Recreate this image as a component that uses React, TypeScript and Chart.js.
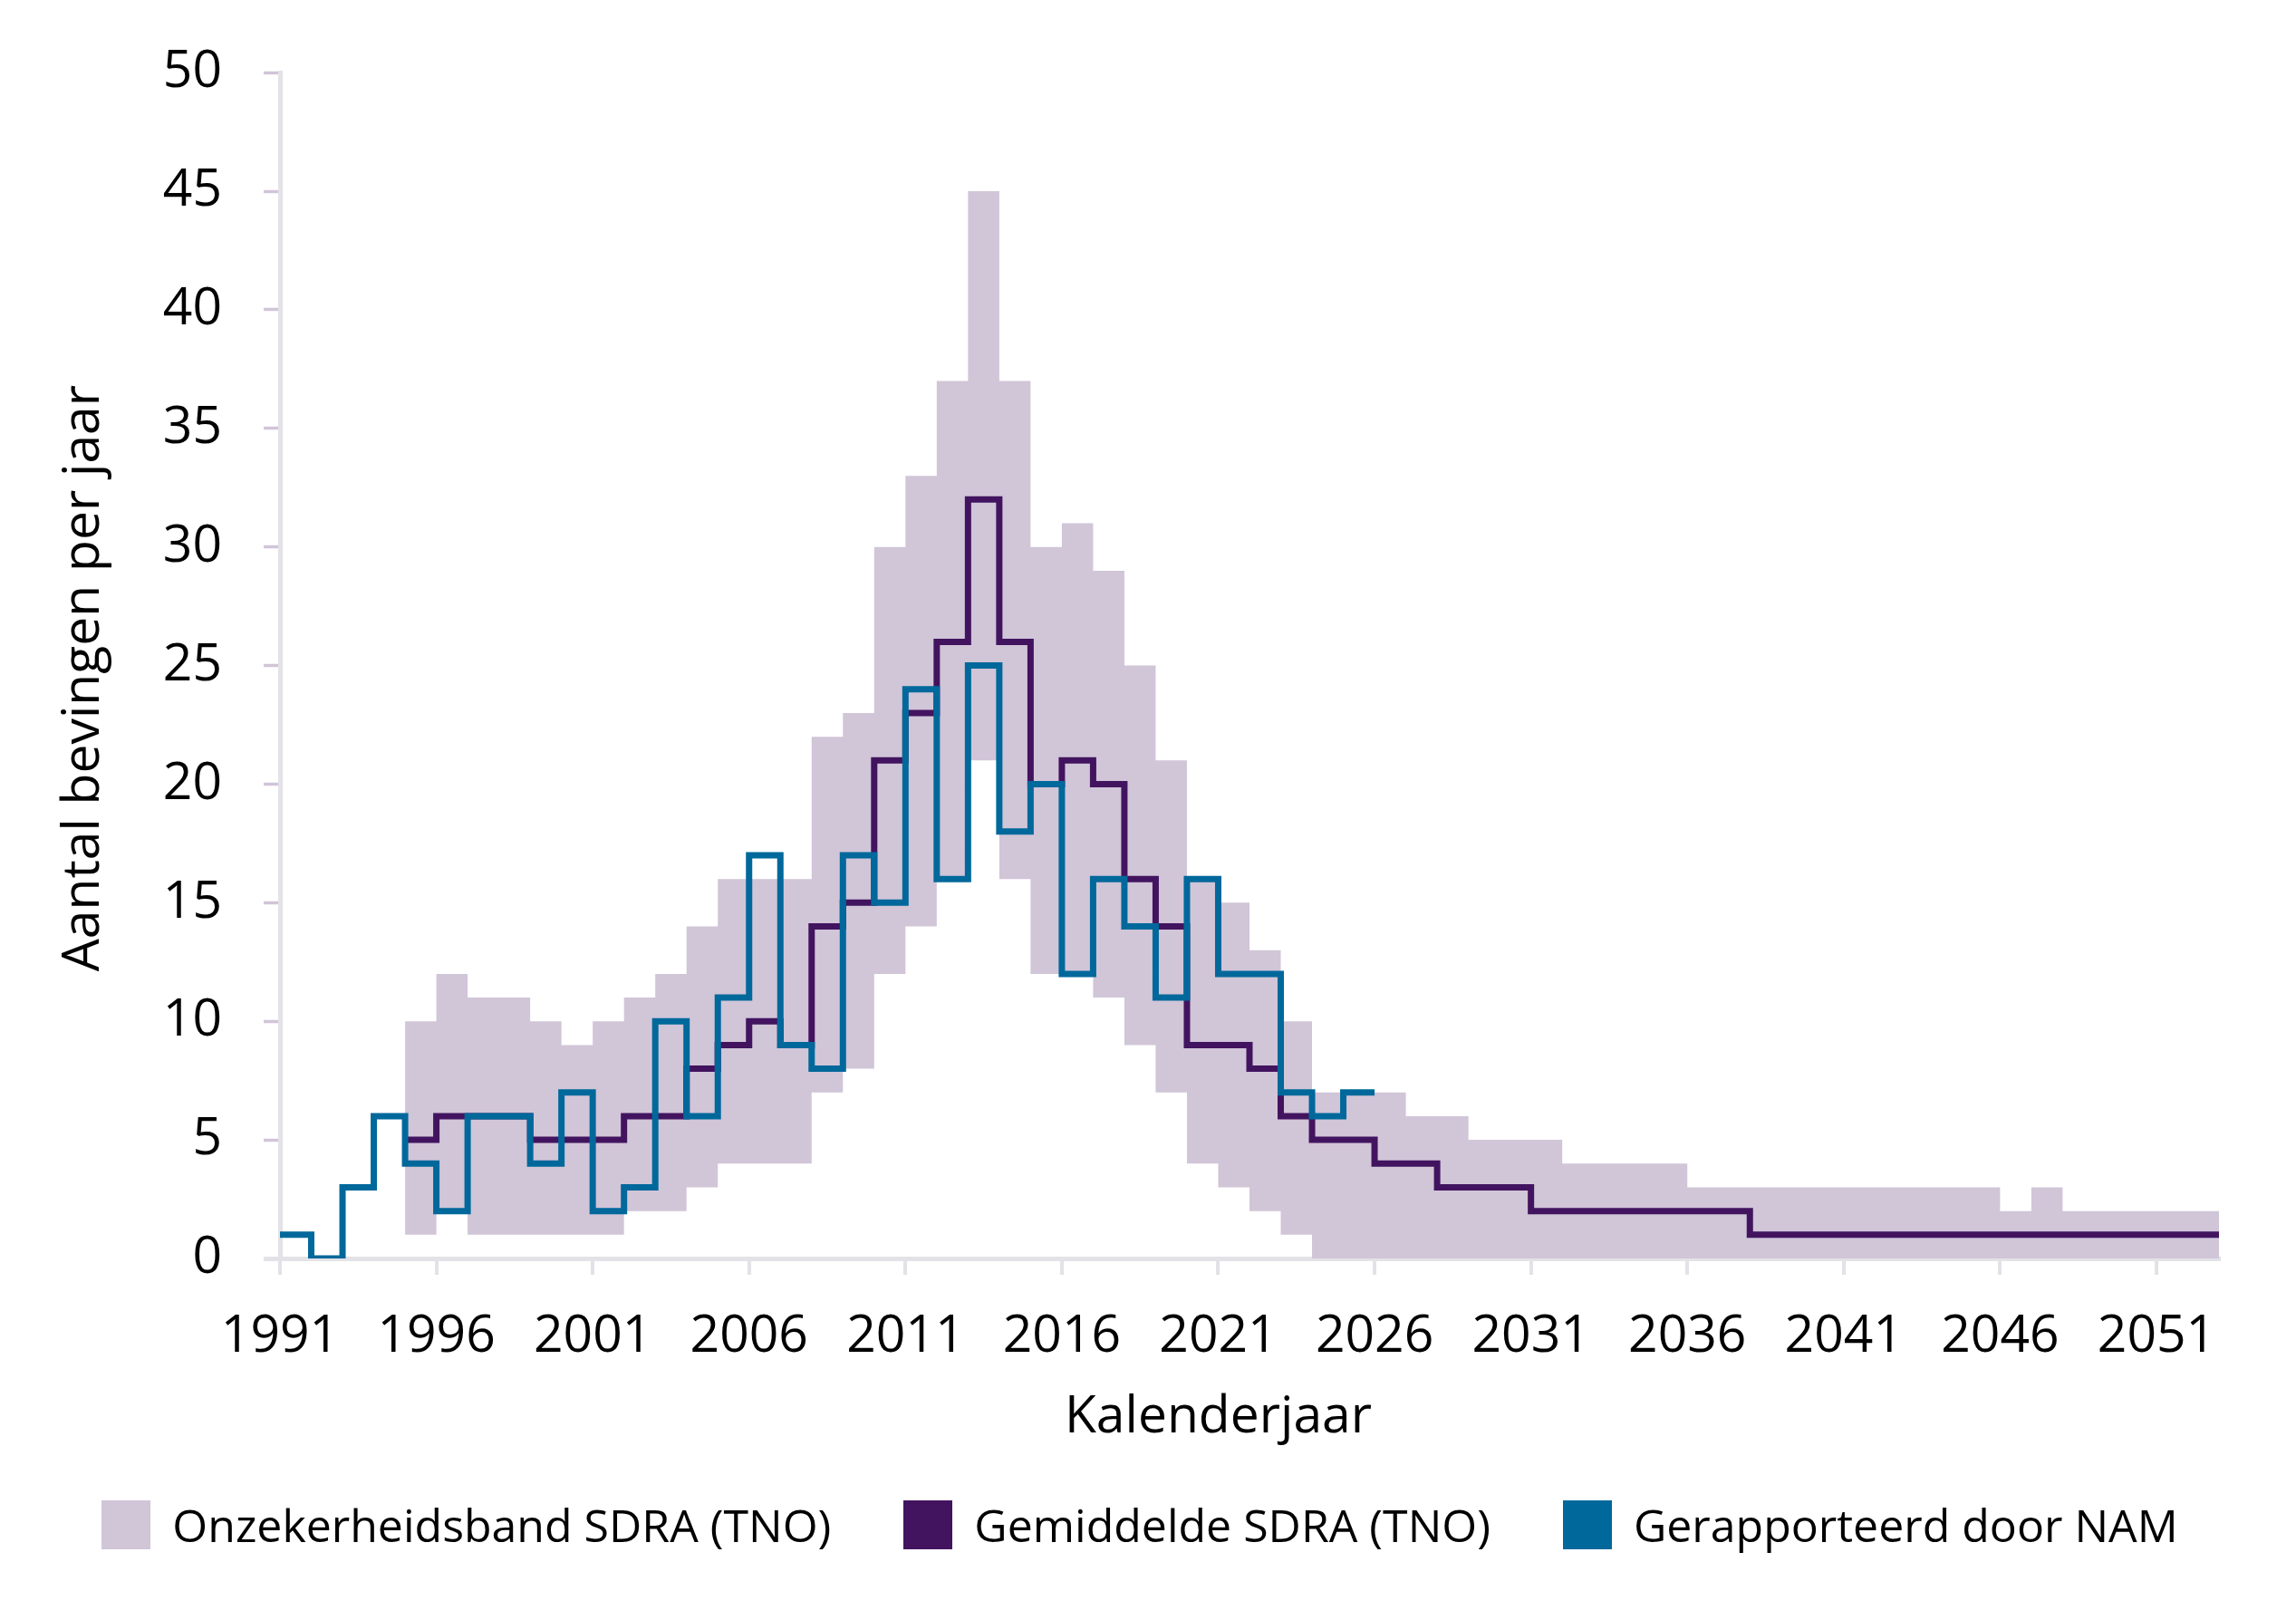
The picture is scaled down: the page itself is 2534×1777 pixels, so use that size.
import { useEffect, useRef } from "react"
import { Chart, registerables } from "chart.js"

Chart.register(...registerables)

// jaartallen op de x-as
const xTicks = [1991, 1996, 2001, 2006, 2011, 2016, 2021, 2026, 2031, 2036, 2041, 2046, 2051]
const X_MIN = 1991
const X_MAX = 2053

// Gerapporteerd door NAM, per kalenderjaar vanaf 1991
const namStart = 1991
const namValues = [
  1, 0, 3, 6, 4, 2, 6, 6, 4, 7,
  2, 3, 10, 6, 11, 17, 9, 8, 17, 15,
  24, 16, 25, 18, 20, 12, 16, 14, 11, 16,
  12, 12, 7, 6, 7,
]

// SDRA (TNO), per kalenderjaar vanaf 1995
const sdraStart = 1995
const sdraMean = [
  5, 6, 6, 6, 5, 5, 5, 6, 6, 8,
  9, 10, 9, 14, 15, 21, 23, 26, 32, 26,
  20, 21, 20, 16, 14, 9, 9, 8, 6, 5,
  5, 4, 4, 3, 3, 3, 2, 2, 2, 2,
  2, 2, 2, 1, 1, 1, 1, 1, 1, 1,
  1, 1, 1, 1, 1, 1, 1, 1,
]
const sdraUpper = [
  10, 12, 11, 11, 10, 9, 10, 11, 12, 14,
  16, 16, 16, 22, 23, 30, 33, 37, 45, 37,
  30, 31, 29, 25, 21, 16, 15, 13, 10, 7,
  7, 7, 6, 6, 5, 5, 5, 4, 4, 4,
  4, 3, 3, 3, 3, 3, 3, 3, 3, 3,
  3, 2, 3, 2, 2, 2, 2, 2,
]
const sdraLower = [
  1, 2, 1, 1, 1, 1, 1, 2, 2, 3,
  4, 4, 4, 7, 8, 12, 14, 16, 21, 16,
  12, 12, 11, 9, 7, 4, 3, 2, 1, 0,
  0, 0, 0, 0, 0, 0, 0, 0, 0, 0,
  0, 0, 0, 0, 0, 0, 0, 0, 0, 0,
  0, 0, 0, 0, 0, 0, 0, 0,
]

const LILAC = "#d1c5d8"
const VIOLET = "#42145f"
const BLUE = "#01689b"
const GREY = "#e2e2e7"
const FONT = "'Open Sans', 'Noto Sans', sans-serif"

const legendItems = [
  { label: "Onzekerheidsband SDRA (TNO)", color: LILAC },
  { label: "Gemiddelde SDRA (TNO)", color: VIOLET },
  { label: "Gerapporteerd door NAM", color: BLUE },
]

// elke waarde geldt voor het hele jaar: extra punt aan het eind van het laatste jaar
function steps(start: number, values: number[]) {
  const pts = values.map((v, i) => ({ x: start + i, y: v }))
  pts.push({ x: start + values.length, y: values[values.length - 1] })
  return pts
}

const axisTitles = {
  id: "axisTitles",
  afterDraw(chart: any) {
    const { ctx, scales, chartArea } = chart
    const x = scales.x
    ctx.save()
    ctx.fillStyle = "#000"
    ctx.font = `57px ${FONT}`
    ctx.textAlign = "center"
    ctx.textBaseline = "middle"
    const cx = (x.getPixelForValue(xTicks[0]) + x.getPixelForValue(xTicks[xTicks.length - 1])) / 2
    ctx.fillText("Kalenderjaar", cx, chartArea.bottom + 176)
    ctx.translate(93, (chartArea.top + chartArea.bottom) / 2 + 14)
    ctx.rotate(-Math.PI / 2)
    ctx.fillText("Aantal bevingen per jaar", 0, 0)
    ctx.restore()
  },
}

function EarthquakeChart() {
  const chartRef = useRef<HTMLCanvasElement>(null)
  const chartInstance = useRef<Chart | null>(null)

  useEffect(() => {
    document.body.style.margin = "0"
    if (!chartRef.current) return
    if (chartInstance.current) chartInstance.current.destroy()
    const ctx = chartRef.current.getContext("2d")
    if (!ctx) return

    Chart.defaults.font.family = FONT
    Chart.defaults.color = "#000"

    chartInstance.current = new Chart(ctx, {
      type: "line",
      data: {
        datasets: [
          {
            label: "NAM",
            data: steps(namStart, namValues),
            borderColor: BLUE,
            borderWidth: 7,
            stepped: true,
            fill: false,
            order: 0,
          },
          {
            label: "Gemiddelde",
            data: steps(sdraStart, sdraMean),
            borderColor: VIOLET,
            borderWidth: 7,
            stepped: true,
            fill: false,
            order: 1,
          },
          {
            label: "Ondergrens",
            data: steps(sdraStart, sdraLower),
            borderWidth: 0,
            borderColor: "rgba(0,0,0,0)",
            stepped: true,
            fill: false,
            order: 3,
          },
          {
            label: "Bovengrens",
            data: steps(sdraStart, sdraUpper),
            borderWidth: 0,
            borderColor: "rgba(0,0,0,0)",
            backgroundColor: LILAC,
            stepped: true,
            fill: "-1",
            order: 2,
          },
        ],
      },
      options: {
        animation: false,
        responsive: true,
        maintainAspectRatio: false,
        layout: { padding: { top: 79, right: 85, left: 0, bottom: 0 } },
        elements: {
          point: { radius: 0, hoverRadius: 0 },
          line: { borderJoinStyle: "miter", borderCapStyle: "butt" },
        },
        plugins: {
          legend: { display: false },
          tooltip: { enabled: false },
        },
        scales: {
          x: {
            type: "linear",
            min: X_MIN,
            max: X_MAX,
            afterBuildTicks: (scale: any) => {
              scale.ticks = xTicks.map((v) => ({ value: v }))
            },
            afterFit: (scale: any) => {
              scale.height = 231
            },
            ticks: {
              autoSkip: false,
              maxRotation: 0,
              padding: 35,
              color: "#000",
              font: { size: 57 },
              callback: (v: any) => String(v),
            },
            grid: {
              drawOnChartArea: false,
              drawTicks: true,
              tickLength: 18,
              color: GREY,
              lineWidth: 4,
            },
            border: { color: GREY, width: 5 },
          },
          y: {
            min: 0,
            max: 50,
            afterFit: (scale: any) => {
              scale.width = 309
            },
            ticks: {
              stepSize: 5,
              padding: 46,
              color: "#000",
              font: { size: 57 },
            },
            grid: {
              drawOnChartArea: false,
              drawTicks: true,
              tickLength: 18,
              tickColor: (c: any) => (c.tick && c.tick.value === 0 ? GREY : LILAC),
              tickWidth: (c: any) => (c.tick && c.tick.value === 0 ? 5 : 3.5),
            },
            border: { color: GREY, width: 5 },
          },
        },
      },
      plugins: [axisTitles],
    })

    return () => {
      if (chartInstance.current) {
        chartInstance.current.destroy()
        chartInstance.current = null
      }
    }
  }, [])

  return (
    <div style={{ width: 2534, height: 1777, background: "#fff", fontFamily: FONT }}>
      <div style={{ position: "relative", width: 2534, height: 1620 }}>
        <canvas ref={chartRef} />
      </div>
      <div
        style={{
          display: "flex",
          justifyContent: "center",
          alignItems: "center",
          gap: 80,
          paddingTop: 36,
          paddingRight: 18,
          fontSize: 50,
          color: "#000",
        }}
      >
        {legendItems.map((item) => (
          <div key={item.label} style={{ display: "flex", alignItems: "center" }}>
            <span style={{ display: "inline-block", width: 54, height: 54, background: item.color, marginRight: 24 }} />
            <span style={{ lineHeight: "54px", whiteSpace: "nowrap" }}>{item.label}</span>
          </div>
        ))}
      </div>
    </div>
  )
}

export default function App() {
  return <EarthquakeChart />
}
